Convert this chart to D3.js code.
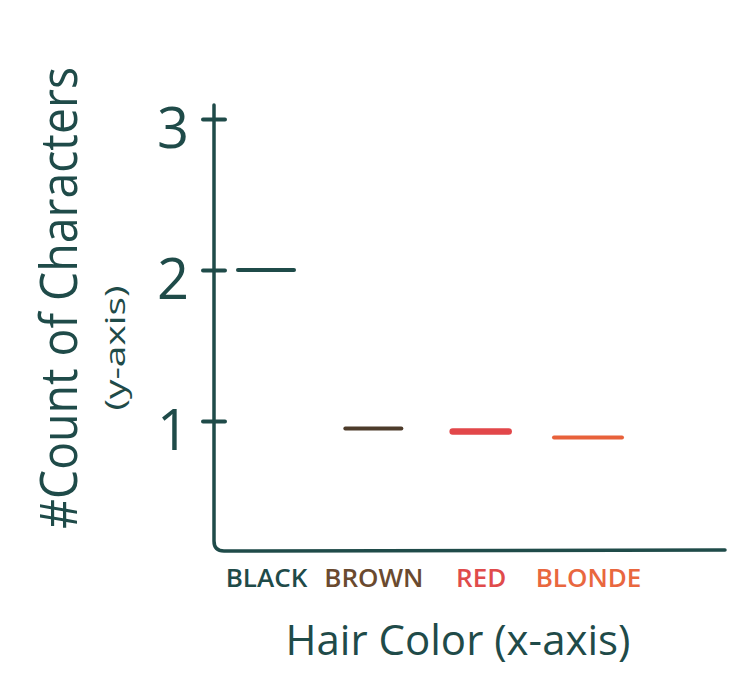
<!DOCTYPE html>
<html>
<head>
<meta charset="utf-8">
<script src="https://cdn.jsdelivr.net/npm/d3@7"></script>
<style>
  html, body { margin: 0; padding: 0; background: #ffffff; }
  svg { display: block; }
  text { font-family: "Open Sans", "DejaVu Sans", sans-serif; }
</style>
</head>
<body>
<svg id="chart" width="736" height="675"></svg>
<script>
// ---- data ----
const categories = ["BLACK", "BROWN", "RED", "BLONDE"];
const counts = [2, 0.95, 0.93, 0.89];
const tickValues = [1, 2, 3];
const tickLabels = ["1", "2", "3"];
const xTitle = "Hair Color (x-axis)";
const yTitle = "#Count of Characters";
const ySubTitle = "(y-axis)";

// ---- styles ----
const ink = "#1f4b49";
const catColors = { BLACK: "#1f4b49", BROWN: "#6a4a2f", RED: "#e04b4b", BLONDE: "#e9673f" };
const markColors = { BLACK: "#1f4b49", BROWN: "#4d3b2a", RED: "#e2474a", BLONDE: "#e8613a" };
const markWidths = { BLACK: 4, BROWN: 4, RED: 6.5, BLONDE: 4 };
const markHalf = { BLACK: 28, BROWN: 28, RED: 28, BLONDE: 34 };

const svg = d3.select("#chart");

const axisX = 214, axisTop = 105, axisBottom = 551, axisRight = 725;

const x = d3.scalePoint().domain(categories).range([266, 588]);
const y = d3.scaleLinear().domain([0, 3]).range([572, 119]);

// axis lines (hand-drawn corner)
const p = d3.path();
p.moveTo(axisX, axisTop);
p.lineTo(axisX, axisBottom - 10);
p.quadraticCurveTo(axisX, axisBottom, axisX + 10, axisBottom);
p.lineTo(axisRight, axisBottom - 1);
svg.append("path").attr("d", p.toString())
  .attr("fill", "none").attr("stroke", ink).attr("stroke-width", 3.5)
  .attr("stroke-linecap", "round");

// y axis ticks
const yAxis = d3.axisLeft(y).tickValues(tickValues)
  .tickFormat((d, i) => tickLabels[i]).tickSize(11).tickPadding(14);
const gy = svg.append("g").attr("transform", `translate(${axisX},0)`).call(yAxis);
gy.select(".domain").remove();
gy.selectAll(".tick line").attr("x1", -11).attr("x2", 11)
  .attr("stroke", ink).attr("stroke-width", 4).attr("stroke-linecap", "round");
gy.selectAll(".tick text").attr("fill", ink)
  .style("font-family", "'Open Sans', sans-serif")
  .attr("font-size", 56).attr("dy", "0.5em");

// x axis labels
const xAxis = d3.axisBottom(x).tickSize(0).tickPadding(18);
const gx = svg.append("g").attr("transform", `translate(0,${axisBottom})`).call(xAxis);
gx.select(".domain").remove();
gx.selectAll(".tick text")
  .attr("fill", d => catColors[d])
  .style("font-family", "'Open Sans', sans-serif")
  .attr("font-size", 26)
  .attr("font-weight", 600)
  .attr("dy", "0.71em");

// marks (short horizontal dashes)
svg.append("g").selectAll("line")
  .data(categories.map((c, i) => ({ c, v: counts[i] })))
  .join("line")
  .attr("x1", d => x(d.c) - markHalf[d.c])
  .attr("x2", d => x(d.c) + markHalf[d.c])
  .attr("y1", d => y(d.v))
  .attr("y2", d => y(d.v))
  .attr("stroke", d => markColors[d.c])
  .attr("stroke-width", d => markWidths[d.c])
  .attr("stroke-linecap", "round");

// x title
svg.append("text")
  .attr("x", 458).attr("y", 655)
  .attr("text-anchor", "middle")
  .attr("fill", ink).attr("font-size", 42)
  .attr("textLength", 345).attr("lengthAdjust", "spacingAndGlyphs")
  .text(xTitle);

// y title
svg.append("text")
  .attr("transform", "translate(77,298) rotate(-90)")
  .attr("text-anchor", "middle")
  .attr("fill", ink).attr("font-size", 52)
  .attr("textLength", 462).attr("lengthAdjust", "spacingAndGlyphs")
  .text(yTitle);

svg.append("text")
  .attr("transform", "translate(125,348) rotate(-90)")
  .attr("text-anchor", "middle")
  .attr("fill", ink).attr("font-size", 28)
  .attr("textLength", 125).attr("lengthAdjust", "spacingAndGlyphs")
  .text(ySubTitle);
</script>
</body>
</html>
